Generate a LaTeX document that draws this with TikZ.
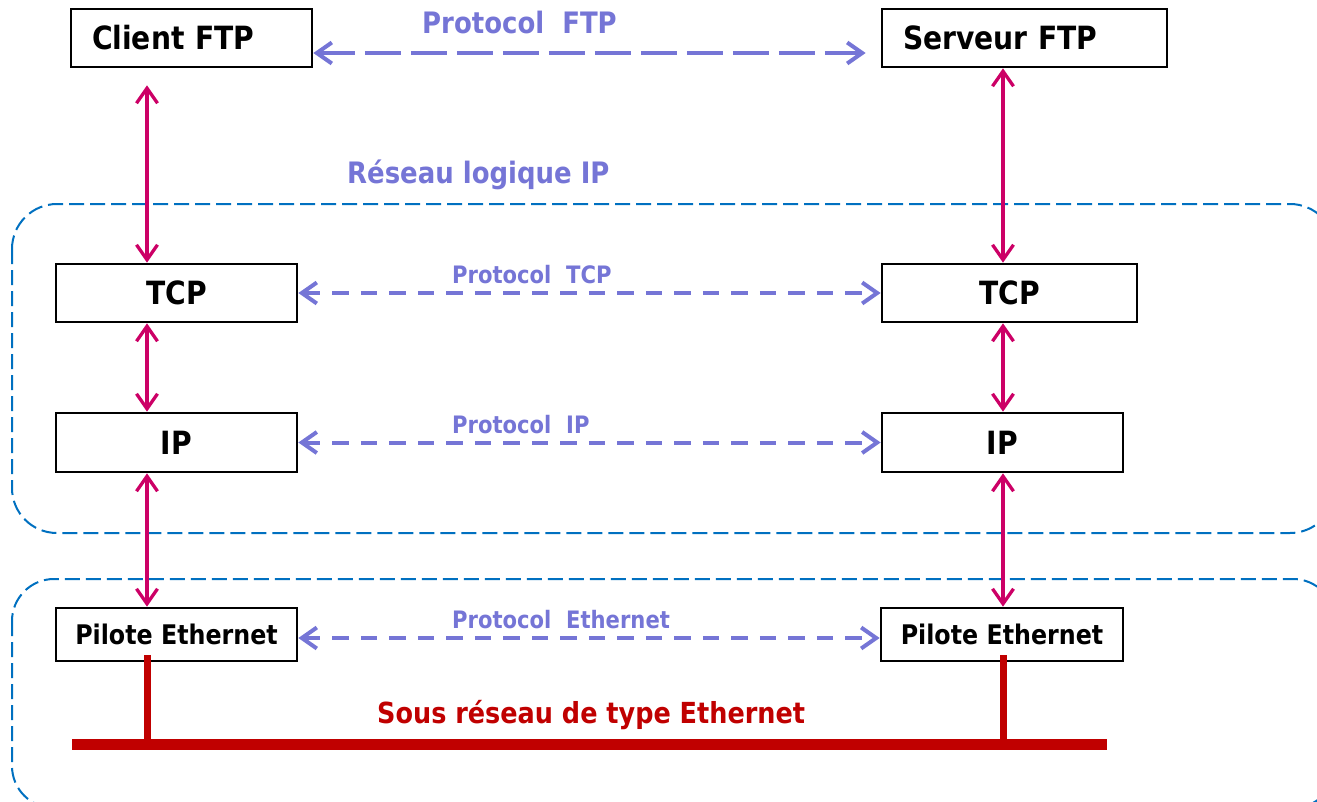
\documentclass[tikz,border=0pt]{standalone}
\usepackage{fontspec}
\setmainfont{DejaVu Sans}[FakeStretch=0.88]
\usetikzlibrary{arrows.meta,calc}
\definecolor{protoclr}{RGB}{117,117,214}
\definecolor{stackclr}{RGB}{204,0,102}
\definecolor{zoneclr}{RGB}{0,112,192}
\definecolor{wireclr}{RGB}{192,0,0}
\tikzset{
  barb/.tip={Straight Barb[length=15pt,width=21pt]},
  layerbox/.style={draw=black, line width=2.7pt, fill=white, inner sep=0pt,
    text height=23pt, text depth=0pt, align=center,
    font=\fontsize{32}{36}\selectfont\bfseries},
  topbox/.style={layerbox, align=left},
  drvbox/.style={layerbox, text height=20pt, font=\fontsize{27}{32}\selectfont\bfseries},
  updown/.style={draw=stackclr, line width=3.3pt, barb-barb},
  peer/.style={draw=protoclr, line width=4pt, barb-barb, dash pattern=on 16.5pt off 12pt},
  peerwide/.style={peer, dash pattern=on 36pt off 10pt},
  zone/.style={draw=zoneclr, line width=2pt, dash pattern=on 15pt off 6pt},
  protolbl/.style={text=protoclr, inner sep=0pt, anchor=base west,
    font=\fontsize{24}{28}\selectfont\bfseries},
  biglbl/.style={protolbl, font=\fontsize{29.5}{34}\selectfont\bfseries},
  wire/.style={draw=wireclr, line width=7pt},
}
\begin{document}
\begin{tikzpicture}[x=1pt,y=-1pt]
\useasboundingbox (0,0) rectangle (1317,801);
\clip (0,0) rectangle (1317,801);

% network zones
\draw[zone, rounded corners=45pt] (12,204) rectangle (1335,533);
\draw[zone, rounded corners=42pt] (12,579) rectangle (1335,808);

% column positions of the vertical links
\coordinate (colL) at (147,0);
\coordinate (colR) at (1003,0);

% protocol stacks
\node[topbox, minimum width=241pt, minimum height=58pt, text width=199pt] (client) at (191.5,38) {Client FTP};
\node[topbox, minimum width=285pt, minimum height=58pt, text width=243pt] (serveur) at (1024.5,38) {Serveur FTP};
\node[layerbox, minimum width=241pt, minimum height=58pt] (tcpL) at (176.5,293) {TCP};
\node[layerbox, minimum width=255pt, minimum height=58pt] (tcpR) at (1009.5,293) {TCP};
\node[layerbox, minimum width=241pt, minimum height=59pt] (ipL) at (176.5,442.5) {IP};
\node[layerbox, minimum width=241pt, minimum height=59pt] (ipR) at (1002.5,442.5) {IP};
\node[drvbox, minimum width=241pt, minimum height=53pt] (pilL) at (176.5,634.5) {Pilote Ethernet};
\node[drvbox, minimum width=242pt, minimum height=53pt] (pilR) at (1002,634.5) {Pilote Ethernet};

% vertical links inside each stack
\draw[updown] ([yshift=-17pt]client.south -| colL) -- (tcpL.north -| colL);
\draw[updown] (tcpL.south -| colL) -- (ipL.north -| colL);
\draw[updown] (ipL.south -| colL) -- (pilL.north -| colL);
\draw[updown] (serveur.south -| colR) -- (tcpR.north -| colR);
\draw[updown] (tcpR.south -| colR) -- (ipR.north -| colR);
\draw[updown] (ipR.south -| colR) -- (pilR.north -| colR);

% peer-to-peer protocols
\draw[peerwide] ([yshift=-15pt]client.east) -- ([xshift=-15pt,yshift=-15pt]serveur.west);
\draw[peer] (tcpL.east) -- (tcpR.west);
\draw[peer] (ipL.east) -- (ipR.west);
\draw[peer] ([yshift=-3.5pt]pilL.east) -- ([yshift=-3.5pt]pilR.west);

\node[biglbl] (lblftp) at (422,33) {Protocol\ \ FTP};
\node[protolbl] (lbltcp) at (452,283) {Protocol\ \ TCP};
\node[protolbl] (lblip) at (452,433) {Protocol\ \ IP};
\node[protolbl] (lbleth) at (452,628) {Protocol\ \ Ethernet};
\node[biglbl] (lblzone) at (347,183) {Réseau logique IP};

% Ethernet segment
\coordinate (busL) at (72,744);
\coordinate (busR) at (1107,744);
\draw[wire] ([yshift=7pt]pilL.south -| colL) -- (busL -| colL);
\draw[wire] ([yshift=7pt]pilR.south -| colR) -- (busR -| colR);
\draw[wire, line width=11pt] (busL) -- (busR);
\node[biglbl, text=wireclr, font=\fontsize{29}{34}\selectfont\bfseries] (lblbus) at (377,723) {Sous réseau de type Ethernet};
\end{tikzpicture}
\end{document}
